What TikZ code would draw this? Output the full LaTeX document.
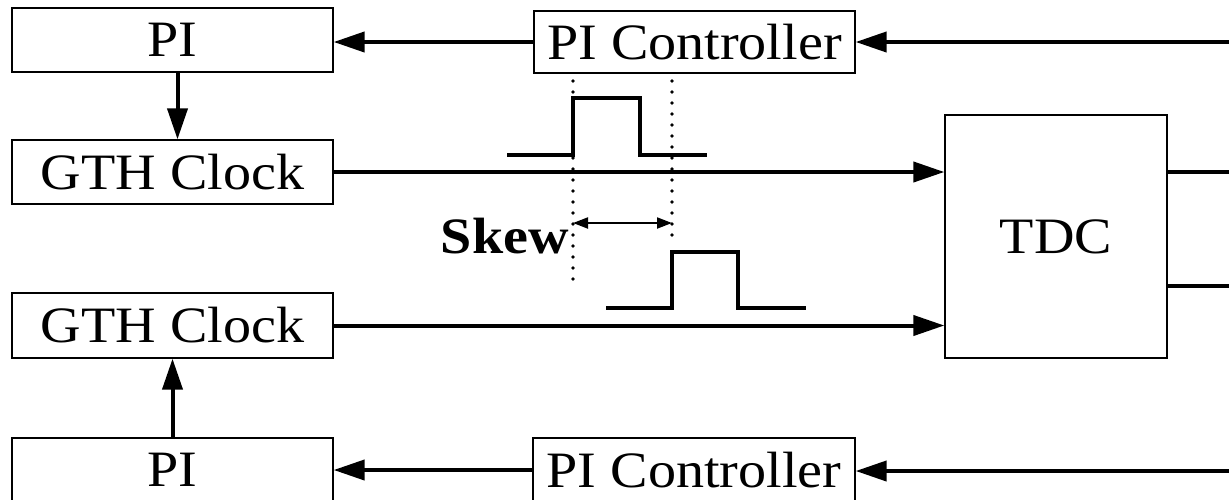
\documentclass[tikz,border=0pt]{standalone}
\usepackage{fontspec}
\setmainfont{Liberation Serif}[FakeStretch=1.1]
\usetikzlibrary{arrows.meta,calc}
\tikzset{
  blk/.style={draw, line width=1.3pt, inner sep=0pt, font=\fontsize{51}{60}\selectfont},
  sig/.style={line width=4pt, -{Triangle[length=31pt,width=20pt]}},
  wire/.style={line width=4pt},
  pulse/.style={line width=4pt, line join=miter},
  guide/.style={line width=3.6pt, line cap=round, dash pattern=on 0pt off 11pt},
  dim/.style={line width=2pt, {Triangle[length=15pt,width=11pt]}-{Triangle[length=15pt,width=11pt]}}
}
\begin{document}
\begin{tikzpicture}[x=1pt, y=-1pt]
\useasboundingbox (0,0) rectangle (1229,499);

% blocks
\node[blk, minimum width=321pt, minimum height=64pt] (piT)   at (172.5,40)  {PI};
\node[blk, minimum width=321pt, minimum height=64pt] (gthT)  at (172.5,172) {GTH Clock};
\node[blk, minimum width=321pt, minimum height=65pt] (gthB)  at (172.5,325.5) {GTH Clock};
\node[blk, minimum width=321pt, minimum height=64pt] (piB)   at (172.5,470) {PI};
\node[blk, minimum width=321pt, minimum height=62pt] (ctrlT) at (694.5,42)  {PI Controller};
\node[blk, minimum width=322pt, minimum height=64pt] (ctrlB) at (694,470)   {PI Controller};
\node[blk, minimum width=222pt, minimum height=243pt] (tdc)  at (1056,236.5) {TDC};

% feedback inputs from the right edge
\coordinate (inT) at (1229,42);
\coordinate (inB) at (1229,471);
\coordinate (outA) at (1229,172);
\coordinate (outB) at (1229,286);

\draw[sig] (inT) -- (ctrlT.east);
\draw[sig] (ctrlT.west) -- (ctrlT.west -| piT.east);
\draw[sig] (inB) -- (inB -| ctrlB.east);
\draw[sig] (ctrlB.west) -- (ctrlB.west -| piB.east);

% PI to clock
\draw[sig] ($(piT.south)+(5,0)$) -- ($(gthT.north)+(5,0)$);
\draw[sig] (piB.north) -- (gthB.south);

% clocks to TDC
\draw[sig] (gthT.east) -- (gthT.east -| tdc.west);
\draw[sig] (gthB.east) -- (gthB.east -| tdc.west);

% TDC outputs
\draw[wire] (outA -| tdc.east) -- (outA);
\draw[wire] (outB -| tdc.east) -- (outB);

% clock pulses
\draw[pulse] (507,155) -- (573,155) -- (573,98) -- (640,98) -- (640,155) -- (707,155);
\draw[pulse] (606,308) -- (672,308) -- (672,252) -- (738,252) -- (738,308) -- (806,308);

% skew markers
\draw[guide] (573,81) -- (573,287);
\draw[guide] (672,81) -- (672,246);
\coordinate (skA) at (573,223);
\coordinate (skB) at (672,223);
\draw[dim] (skA) -- (skB);
\node[anchor=base east, inner sep=0pt, font=\fontsize{51}{60}\selectfont\bfseries] (skew) at (569,253) {Skew};
\end{tikzpicture}
\end{document}
